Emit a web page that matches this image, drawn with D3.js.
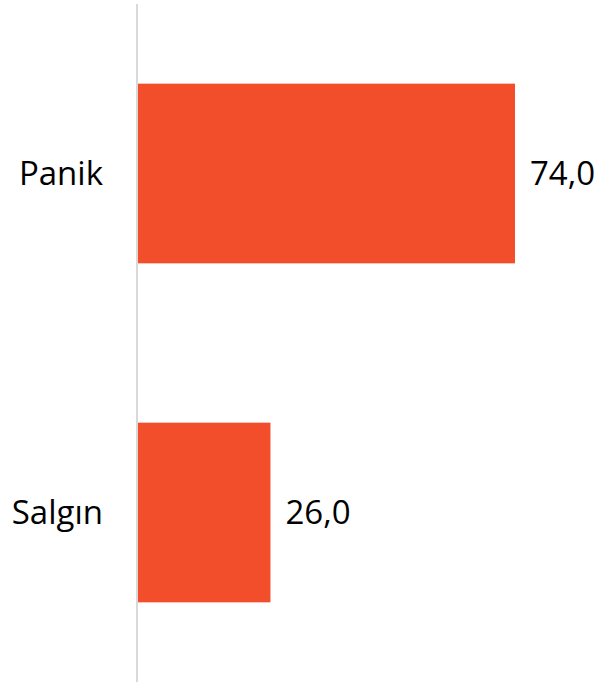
<!DOCTYPE html>
<html>
<head>
<meta charset="utf-8">
<script src="https://cdn.jsdelivr.net/npm/d3@7"></script>
<style>
body { margin: 0; background: #fff; }
svg text { font-family: "Open Sans", "Noto Sans", sans-serif; font-size: 33px; fill: #000; }
</style>
</head>
<body>
<svg id="chart" width="600" height="684"></svg>
<script>
const categories = ["Panik", "Salgın"];
const values = [74.0, 26.0];
const valueLabels = ["74,0", "26,0"];

const svg = d3.select("#chart");
const x = d3.scaleLinear().domain([0, 74]).range([138, 515]);
const y = d3.scaleBand().domain(categories).range([4, 682]).paddingInner(0.47).paddingOuter(0.235);

svg.selectAll("rect.bar").data(categories).join("rect")
  .attr("class", "bar")
  .attr("x", x(0))
  .attr("y", d => y(d))
  .attr("width", (d, i) => x(values[i]) - x(0))
  .attr("height", y.bandwidth())
  .attr("fill", "#F24E2C");

svg.append("line")
  .attr("x1", 137).attr("x2", 137)
  .attr("y1", 4).attr("y2", 682)
  .attr("stroke", "#d9d9d9").attr("stroke-width", 2);

svg.selectAll("text.cat").data(categories).join("text")
  .attr("class", "cat")
  .attr("x", 103)
  .attr("y", d => y(d) + y.bandwidth() / 2)
  .attr("dy", "0.35em")
  .attr("text-anchor", "end")
  .text(d => d);

svg.selectAll("text.val").data(categories).join("text")
  .attr("class", "val")
  .attr("x", (d, i) => x(values[i]) + 15)
  .attr("y", d => y(d) + y.bandwidth() / 2)
  .attr("dy", "0.35em")
  .text((d, i) => valueLabels[i]);
</script>
</body>
</html>
